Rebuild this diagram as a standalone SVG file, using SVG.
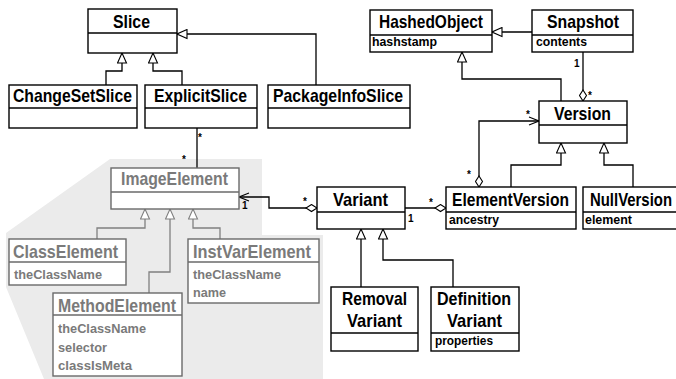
<svg xmlns="http://www.w3.org/2000/svg" width="676" height="379" viewBox="0 0 676 379">
<style>
.box{fill:#fff;stroke:#000;stroke-width:1.4}
.gbox{fill:#fff;stroke:#6a6a6a;stroke-width:1.4}
.div{stroke:#000;stroke-width:1.3}
.gdiv{stroke:#6a6a6a;stroke-width:1.3}
.t{font-family:"Liberation Sans",Arial,sans-serif;font-weight:bold;font-size:19px;fill:#000}
.a{font-family:"Liberation Sans",Arial,sans-serif;font-weight:bold;font-size:13.5px;fill:#000}
.g{fill:#7a7a7a}
.m{font-family:"Liberation Sans",Arial,sans-serif;font-weight:bold;font-size:10px;fill:#000}
.c{fill:none;stroke:#000;stroke-width:1.3}
.gc{fill:none;stroke:#808080;stroke-width:1.3}
</style>
<defs>
<marker id="tri" markerUnits="userSpaceOnUse" viewBox="-1 -1 12 11" refX="10" refY="4.5" markerWidth="12" markerHeight="11" orient="auto"><path d="M0,0 L10,4.5 L0,9 Z" fill="#fff" stroke="#000" stroke-width="1.1"/></marker>
<marker id="gtri" markerUnits="userSpaceOnUse" viewBox="-1 -1 12 11" refX="10" refY="4.5" markerWidth="12" markerHeight="11" orient="auto"><path d="M0,0 L10,4.5 L0,9 Z" fill="#fff" stroke="#808080" stroke-width="1.1"/></marker>
<marker id="arr" markerUnits="userSpaceOnUse" viewBox="-1 -1 12 10" refX="10" refY="4" markerWidth="12" markerHeight="10" orient="auto"><path d="M0,0 L10,4 L0,8" fill="none" stroke="#000" stroke-width="1.1"/></marker>
<marker id="dia" markerUnits="userSpaceOnUse" viewBox="-1 -1 13 9" refX="0" refY="3.5" markerWidth="13" markerHeight="9" orient="auto"><path d="M0,3.5 L5.5,0 L11,3.5 L5.5,7 Z" fill="#fff" stroke="#000" stroke-width="1.1"/></marker>
</defs>
<polygon points="110,159 262,159 262,235 323,235 323,379 44,379 6,287 6,233" fill="#ebebeb"/>
<g id="connectors">
<path class="c" d="M106,85 V71 H122 V53" marker-end="url(#tri)"/>
<path class="c" d="M182,85 V71 H153 V53" marker-end="url(#tri)"/>
<path class="c" d="M316,85 V34 H177" marker-end="url(#tri)"/>
<path class="c" d="M197,128 V168"/>
<path class="c" d="M532,32 H492" marker-end="url(#tri)"/>
<path class="c" d="M561,101 V79 H462 V52" marker-end="url(#tri)"/>
<path class="c" d="M583,101 V52" marker-start="url(#dia)"/>
<path class="c" d="M479,187 V121 H539" marker-start="url(#dia)" marker-end="url(#arr)"/>
<path class="c" d="M511,187 V165 H561 V143" marker-end="url(#tri)"/>
<path class="c" d="M633,187 V165 H604 V143" marker-end="url(#tri)"/>
<path class="c" d="M446,208 H405" marker-start="url(#dia)"/>
<path class="c" d="M317,208 H269 V197 H239" marker-start="url(#dia)" marker-end="url(#arr)"/>
<path class="c" d="M361,287 V229" marker-end="url(#tri)"/>
<path class="c" d="M453,287 V260 H383 V229" marker-end="url(#tri)"/>
<path class="gc" d="M97,239 V228 H145 V209" marker-end="url(#gtri)"/>
<path class="gc" d="M149,293 V272 H170 V209" marker-end="url(#gtri)"/>
<path class="gc" d="M220,239 V228 H193 V209" marker-end="url(#gtri)"/>
<text class="m" x="198" y="141">*</text>
<text class="m" x="182" y="163">*</text>
<text class="m" x="574" y="67">1</text>
<text class="m" x="588" y="99">*</text>
<text class="m" x="526" y="118">*</text>
<text class="m" x="467" y="178">*</text>
<text class="m" x="408" y="222">1</text>
<text class="m" x="429" y="206">*</text>
<text class="m" x="242" y="209">1</text>
<text class="m" x="303" y="205">*</text>
</g>
<g id="Slice"><rect class="box" x="88" y="9" width="89" height="44"/><line class="div" x1="88" y1="33" x2="177" y2="33"/><text class="t" x="113" y="28" textLength="37" lengthAdjust="spacingAndGlyphs">Slice</text></g>
<g id="ChangeSetSlice"><rect class="box" x="9" y="85" width="128" height="43"/><line class="div" x1="9" y1="108" x2="137" y2="108"/><text class="t" x="13" y="102" textLength="119" lengthAdjust="spacingAndGlyphs">ChangeSetSlice</text></g>
<g id="ExplicitSlice"><rect class="box" x="145" y="85" width="112" height="43"/><line class="div" x1="145" y1="108" x2="257" y2="108"/><text class="t" x="154" y="102" textLength="93" lengthAdjust="spacingAndGlyphs">ExplicitSlice</text></g>
<g id="PackageInfoSlice"><rect class="box" x="268" y="85" width="142" height="43"/><line class="div" x1="268" y1="108" x2="410" y2="108"/><text class="t" x="273" y="102" textLength="130" lengthAdjust="spacingAndGlyphs">PackageInfoSlice</text></g>
<g id="HashedObject"><rect class="box" x="370" y="10" width="122" height="42"/><line class="div" x1="370" y1="35" x2="492" y2="35"/><text class="t" x="379" y="28" textLength="104" lengthAdjust="spacingAndGlyphs">HashedObject</text><text class="a" x="372" y="46" textLength="65" lengthAdjust="spacingAndGlyphs">hashstamp</text></g>
<g id="Snapshot"><rect class="box" x="532" y="10" width="101" height="42"/><line class="div" x1="532" y1="35" x2="633" y2="35"/><text class="t" x="547" y="28" textLength="72" lengthAdjust="spacingAndGlyphs">Snapshot</text><text class="a" x="536" y="46" textLength="51" lengthAdjust="spacingAndGlyphs">contents</text></g>
<g id="Version"><rect class="box" x="539" y="101" width="88" height="42"/><line class="div" x1="539" y1="125" x2="627" y2="125"/><text class="t" x="554" y="120" textLength="57" lengthAdjust="spacingAndGlyphs">Version</text></g>
<g id="Variant"><rect class="box" x="317" y="187" width="88" height="42"/><line class="div" x1="317" y1="212" x2="405" y2="212"/><text class="t" x="333" y="206" textLength="55" lengthAdjust="spacingAndGlyphs">Variant</text></g>
<g id="ElementVersion"><rect class="box" x="446" y="187" width="130" height="42"/><line class="div" x1="446" y1="212" x2="576" y2="212"/><text class="t" x="452" y="206" textLength="117" lengthAdjust="spacingAndGlyphs">ElementVersion</text><text class="a" x="449" y="224" textLength="50" lengthAdjust="spacingAndGlyphs">ancestry</text></g>
<g id="NullVersion"><rect class="box" x="583" y="187" width="100" height="42"/><line class="div" x1="583" y1="212" x2="683" y2="212"/><text class="t" x="590" y="206" textLength="82" lengthAdjust="spacingAndGlyphs">NullVersion</text><text class="a" x="585" y="224" textLength="47" lengthAdjust="spacingAndGlyphs">element</text></g>
<g id="RemovalVariant"><rect class="box" x="331" y="287" width="87" height="64"/><line class="div" x1="331" y1="333" x2="418" y2="333"/><text class="t" x="342" y="305" textLength="65" lengthAdjust="spacingAndGlyphs">Removal</text><text class="t" x="347" y="327" textLength="55" lengthAdjust="spacingAndGlyphs">Variant</text></g>
<g id="DefinitionVariant"><rect class="box" x="431" y="287" width="88" height="64"/><line class="div" x1="431" y1="333" x2="519" y2="333"/><text class="t" x="437" y="305" textLength="74" lengthAdjust="spacingAndGlyphs">Definition</text><text class="t" x="447" y="327" textLength="55" lengthAdjust="spacingAndGlyphs">Variant</text><text class="a" x="435" y="345" textLength="58" lengthAdjust="spacingAndGlyphs">properties</text></g>
<g id="ImageElement"><rect class="gbox" x="111" y="168" width="128" height="41"/><line class="gdiv" x1="111" y1="192" x2="239" y2="192"/><text class="t g" x="121" y="185" textLength="107" lengthAdjust="spacingAndGlyphs">ImageElement</text></g>
<g id="ClassElement"><rect class="gbox" x="9" y="239" width="117" height="46"/><line class="gdiv" x1="9" y1="262" x2="126" y2="262"/><text class="t g" x="13" y="258" textLength="105" lengthAdjust="spacingAndGlyphs">ClassElement</text><text class="a g" x="14" y="279" textLength="88" lengthAdjust="spacingAndGlyphs">theClassName</text></g>
<g id="InstVarElement"><rect class="gbox" x="188" y="239" width="131" height="64"/><line class="gdiv" x1="188" y1="262" x2="319" y2="262"/><text class="t g" x="193" y="258" textLength="118" lengthAdjust="spacingAndGlyphs">InstVarElement</text><text class="a g" x="193" y="279" textLength="88" lengthAdjust="spacingAndGlyphs">theClassName</text><text class="a g" x="193" y="297" textLength="33" lengthAdjust="spacingAndGlyphs">name</text></g>
<g id="MethodElement"><rect class="gbox" x="53" y="293" width="129" height="83"/><line class="gdiv" x1="53" y1="315" x2="182" y2="315"/><text class="t g" x="58" y="312" textLength="118" lengthAdjust="spacingAndGlyphs">MethodElement</text><text class="a g" x="58" y="333" textLength="88" lengthAdjust="spacingAndGlyphs">theClassName</text><text class="a g" x="58" y="352" textLength="49" lengthAdjust="spacingAndGlyphs">selector</text><text class="a g" x="58" y="370" textLength="74" lengthAdjust="spacingAndGlyphs">classIsMeta</text></g>
</svg>
